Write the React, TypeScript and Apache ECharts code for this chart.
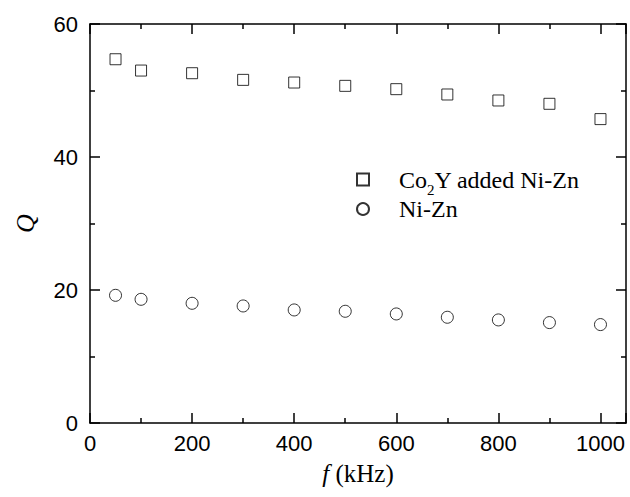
import React, { useEffect, useRef } from "react";
import * as echarts from "echarts";

const freqKHz = [50, 100, 200, 300, 400, 500, 600, 700, 800, 900, 1000];
const qCo2YNiZn = [54.7, 53.0, 52.6, 51.6, 51.2, 50.7, 50.2, 49.4, 48.5, 48.0, 45.7];
const qNiZn = [19.2, 18.6, 18.0, 17.6, 17.0, 16.8, 16.4, 15.9, 15.5, 15.1, 14.8];
const xTicks = [0, 200, 400, 600, 800, 1000];
const yTicks = [0, 20, 40, 60];
const seriesNames = ["Co2Y added Ni-Zn", "Ni-Zn"];

const SANS = "Liberation Sans";
const SERIF = "Liberation Serif";

export default function App() {
  const ref = useRef<HTMLDivElement>(null);
  useEffect(() => {
    document.body.style.margin = "0";
    if (!ref.current) return;
    const chart = echarts.init(ref.current, null, { renderer: "svg" });
    const axisLine = { show: true, onZero: false, lineStyle: { color: "#000", width: 1.5 } };
    const axisTick = { show: true, inside: true, length: 10, lineStyle: { color: "#000", width: 1.5 } };
    const minorTick = { show: true, splitNumber: 2, length: 5, lineStyle: { color: "#000", width: 1.5 } };
    const xBase = {
      type: "value" as const,
      min: 0,
      max: 1050,
      interval: 200,
      axisLine,
      axisTick,
      minorTick,
      splitLine: { show: false },
      minorSplitLine: { show: false },
    };
    const yBase = {
      type: "value" as const,
      min: 0,
      max: 60,
      interval: 20,
      axisLine,
      axisTick,
      minorTick,
      splitLine: { show: false },
      minorSplitLine: { show: false },
    };
    const itemStyle = { color: "#fff", borderColor: "#000", borderWidth: 1 };
    chart.setOption({
      animation: false,
      grid: { left: 90, right: 4, top: 24, bottom: 74, containLabel: false },
      xAxis: [
        {
          ...xBase,
          position: "bottom",
          name: "{i|f} {n|(kHz)}",
          nameLocation: "middle",
          nameGap: 38,
          nameTextStyle: {
            fontFamily: SERIF,
            fontSize: 25,
            color: "#000",
            rich: {
              i: { fontFamily: SERIF, fontStyle: "italic", fontSize: 25, color: "#000" },
              n: { fontFamily: SERIF, fontStyle: "normal", fontSize: 25, color: "#000" },
            },
          },
          axisLabel: {
            show: true,
            margin: 9,
            fontFamily: SANS,
            fontSize: 22,
            color: "#000",
            formatter: (v: number) => (xTicks.includes(v) ? String(v) : ""),
          },
        },
        { ...xBase, position: "top", axisLabel: { show: false } },
      ],
      yAxis: [
        {
          ...yBase,
          position: "left",
          name: "Q",
          nameLocation: "middle",
          nameGap: 52,
          nameTextStyle: { fontFamily: SERIF, fontStyle: "italic", fontSize: 26, color: "#000" },
          axisLabel: {
            show: true,
            margin: 12,
            fontFamily: SANS,
            fontSize: 22,
            color: "#000",
            formatter: (v: number) => (yTicks.includes(v) ? String(v) : ""),
          },
        },
        { ...yBase, position: "right", axisLabel: { show: false } },
      ],
      legend: {
        orient: "vertical",
        left: 356,
        top: 162,
        padding: 0,
        itemGap: 0,
        itemWidth: 12,
        itemHeight: 12,
        data: seriesNames,
        formatter: (name: string) =>
          name === seriesNames[0] ? "{sp| }{n|Co}{s|2}{n|Y added Ni-Zn}" : "{sp| }{n|Ni-Zn}",
        textStyle: {
          fontFamily: SERIF,
          fontSize: 24,
          color: "#000",
          rich: {
            sp: { width: 25, fontFamily: SERIF, fontSize: 24, lineHeight: 26 },
            n: { fontFamily: SERIF, fontSize: 24, lineHeight: 26, color: "#000" },
            s: { fontFamily: SERIF, fontSize: 15, lineHeight: 15, padding: [20, 0, 0, 0], color: "#000" },
          },
        },
      },
      series: [
        {
          name: seriesNames[0],
          type: "scatter",
          symbol: "rect",
          symbolSize: 11,
          itemStyle,
          data: freqKHz.map((f, i) => [f, qCo2YNiZn[i]]),
        },
        {
          name: seriesNames[1],
          type: "scatter",
          symbol: "circle",
          symbolSize: 12,
          itemStyle,
          data: freqKHz.map((f, i) => [f, qNiZn[i]]),
        },
      ],
    });
    return () => chart.dispose();
  }, []);
  return <div ref={ref} style={{ width: 630, height: 497 }} />;
}
